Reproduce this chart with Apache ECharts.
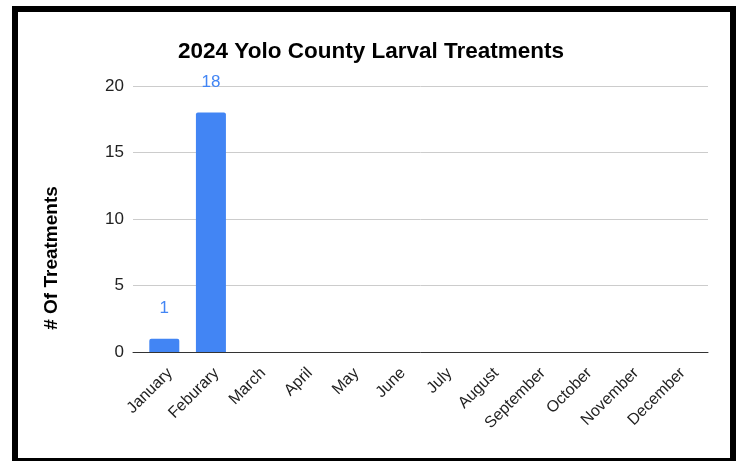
<!DOCTYPE html>
<html>
<head>
<meta charset="utf-8">
<script src="https://cdn.jsdelivr.net/npm/echarts@6/dist/echarts.min.js"></script>
<style>
html,body{margin:0;padding:0;background:#fff;}
#c{width:742px;height:461px;}
</style>
</head>
<body>
<div id="c"></div>
<script>
const titleText = '2024 Yolo County Larval Treatments';
const yAxisTitle = '# Of Treatments';
const months = ['January','Feburary','March','April','May','June','July','August','September','October','November','December'];
const treatments = [1,18,0,0,0,0,0,0,0,0,0,0];
const yMin = 0, yMax = 20, yStep = 5;

const font = 'Liberation Sans, Arial, sans-serif';
const chart = echarts.init(document.getElementById('c'));
chart.setOption({
  animation:false,
  backgroundColor:'#fff',
  title:{text:titleText,left:'center',top:35,textStyle:{fontFamily:font,fontSize:22.5,fontWeight:'bold',color:'#000'}},
  grid:[
    {left:141,right:41.6,top:86,bottom:109},
    {left:133,right:34,top:86,bottom:109}
  ],
  xAxis:[
    {type:'category',gridIndex:0,data:months,
     axisLine:{show:false},axisTick:{show:false},
     axisLabel:{rotate:45,interval:0,margin:13,verticalAlign:'top',fontFamily:font,fontSize:16,color:'#222'}},
    {type:'value',gridIndex:1,min:0,max:1,
     axisLine:{show:true,lineStyle:{color:'#333',width:1}},axisTick:{show:false},axisLabel:{show:false},splitLine:{show:false}}
  ],
  yAxis:[
    {type:'value',gridIndex:0,min:yMin,max:yMax,interval:yStep,
     axisLine:{show:false},axisTick:{show:false},axisLabel:{show:false},splitLine:{show:false}},
    {type:'value',gridIndex:1,min:yMin,max:yMax,interval:yStep,
     axisLine:{show:false},axisTick:{show:false},
     axisLabel:{margin:9,fontFamily:font,fontSize:17,color:'#222'},
     splitLine:{show:true,lineStyle:{color:'#ccc',width:1}}}
  ],
  series:[{
    type:'bar',xAxisIndex:0,yAxisIndex:0,data:treatments,barWidth:30,
    itemStyle:{color:'#4285f4',borderRadius:[2,2,0,0]},
    label:{show:true,position:'top',distance:22,fontFamily:font,fontSize:17,color:'#4285f4',
      formatter:p=>p.value?String(p.value):''}
  }],
  graphic:[
    {type:'rect',shape:{x:15,y:9,width:718,height:452},style:{fill:'none',stroke:'#000',lineWidth:6},z:100},
    {type:'text',x:52,y:258,rotation:Math.PI/2,
     style:{text:yAxisTitle,align:'center',verticalAlign:'middle',font:'bold 19px '+font,fill:'#000'}}
  ]
});
</script>
</body>
</html>
